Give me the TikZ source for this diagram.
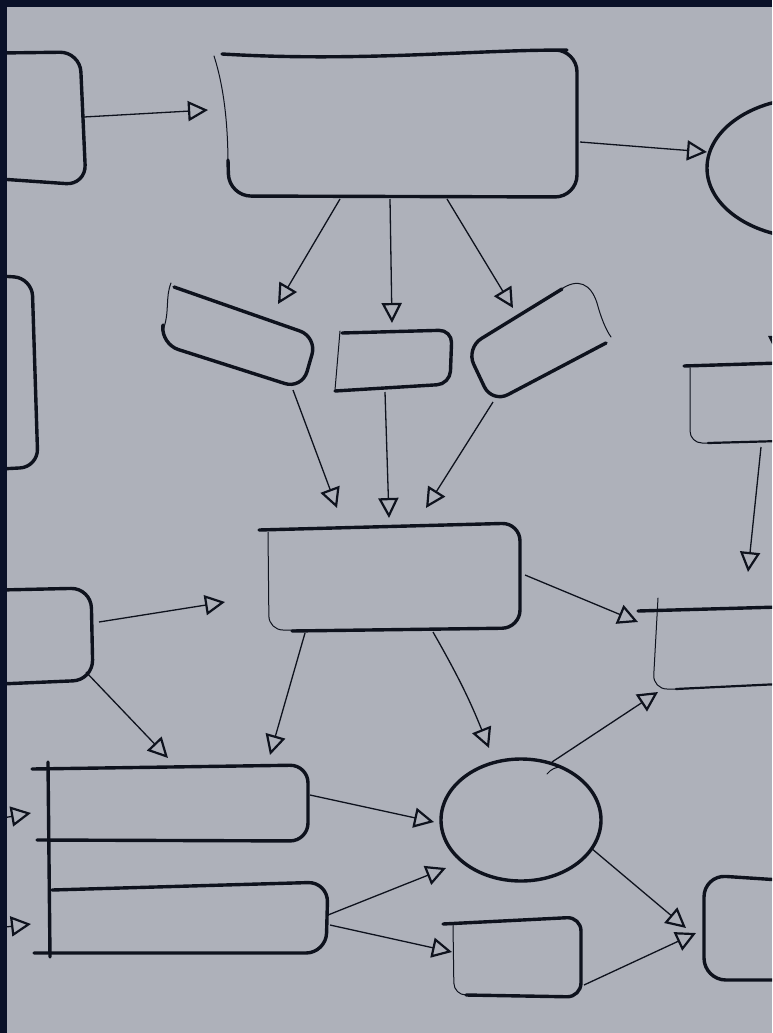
\documentclass[tikz,border=0pt]{standalone}
\usetikzlibrary{arrows.meta}
\definecolor{bgc}{HTML}{AEB1BA}
\definecolor{navy}{HTML}{0A1128}
\definecolor{ink}{HTML}{0E121D}
\tikzset{
  thk/.style={draw=ink, line width=3.4pt, line cap=round, line join=round},
  med/.style={draw=ink, line width=2.2pt, line cap=round, line join=round},
  thn/.style={draw=ink, line width=1pt, line cap=round},
  arr/.style={draw=ink, line width=1.3pt, -{Triangle[open, length=20pt, width=20pt, line width=2.2pt]}},
}
\begin{document}
\begin{tikzpicture}[x=1pt,y=-1pt]
\useasboundingbox (0,0) rectangle (772,1033);
\fill[bgc] (0,0) rectangle (772,1033);
\begin{scope}
\clip (0,0) rectangle (772,1033);
% ---- shapes ----
% top-left partial box
\draw[thk, rounded corners=20] (0,53) -- (80,52) -- (86,185) -- (0,179);
% big top box
\draw[thk, rounded corners=22] (228,160) -- (229,196) -- (577,197) -- (577,50) -- (545,50) .. controls (440,53) and (340,61) .. (222,54);
\draw[thn] (214,56) .. controls (225,90) and (228,130) .. (228,165);
% right top ellipse
\draw[thk] (810,168) ellipse [x radius=103, y radius=70];
% left-middle partial box
\draw[thk, rounded corners=18] (0,276) -- (32,278) -- (38,467) -- (0,469);
% tilted left box
\draw[thk, rounded corners=18] (174,287) -- (317,337) -- (302,389) -- (161,344) -- (163,325);
\draw[thn] (163,330) .. controls (170,312) and (165,298) .. (171,283);
% middle small box
\draw[thk, rounded corners=13] (342,333) -- (452,330) -- (450,384) -- (335,391);
\draw[thn] (340,331) -- (335,390);
% tilted right box
\draw[thk, rounded corners=18] (606,343) -- (492,403) -- (466,348) -- (562,289);
\draw[thn] (560,290) .. controls (578,277) and (591,284) .. (597,303) .. controls (601,318) and (606,330) .. (611,337);
% center box
\draw[thk, rounded corners=18] (259,530) -- (520,523) -- (520,628) -- (292,631);
\draw[thn, rounded corners=14] (268,532) -- (269,630) -- (300,630);
% right-middle partial box
\draw[thk] (684,366) -- (780,363);
\draw[thn, rounded corners=12] (690,368) -- (690,443) -- (712,443);
\draw[med] (708,443) -- (780,441);
% left lower partial box
\draw[thk, rounded corners=20] (0,590) -- (91,588) -- (93,680) -- (0,684);
% right box 2 partial
\draw[thk] (638,611) -- (780,607);
\draw[thn, rounded corners=14] (658,598) -- (653,689) -- (680,689);
\draw[med] (676,689) -- (780,684);
% circle
\draw[thk] (521,820) ellipse [x radius=80, y radius=61];
\draw[thn] (547,774) .. controls (551,769) and (556,767) .. (561,767);
% bracket line
\draw[thk] (48,762) -- (50,957);
% box A
\draw[thk, rounded corners=18] (32,769) -- (308,765) -- (308,841) -- (37,840);
% box B
\draw[thk, rounded corners=20] (52,890) -- (328,882) -- (326,953) -- (34,953);
% small bottom box
\draw[thk, rounded corners=14] (443,924) -- (581,917) -- (581,997) -- (466,995);
\draw[thn, rounded corners=12] (453,925) -- (454,995) -- (472,995);
% right bottom partial box
\draw[thk, rounded corners=22] (780,880) -- (704,875) -- (704,980) -- (780,980);

% ---- connector ends ----
\coordinate (a1s) at (84,117);   \coordinate (a1e) at (208,110);
\coordinate (a2s) at (580,142);  \coordinate (a2e) at (707,152);
\coordinate (a3s) at (340,199);  \coordinate (a3e) at (278,304);
\coordinate (a4s) at (390,199);  \coordinate (a4e) at (392,323);
\coordinate (a5s) at (447,199);  \coordinate (a5e) at (513,308);
\coordinate (a6s) at (293,390);  \coordinate (a6e) at (337,508);
\coordinate (a7s) at (385,392);  \coordinate (a7e) at (389,518);
\coordinate (a8s) at (493,402);  \coordinate (a8e) at (426,508);
\coordinate (a9s) at (99,622);   \coordinate (a9e) at (225,602);
\coordinate (a10s) at (525,575); \coordinate (a10e) at (638,622);
\coordinate (a11s) at (86,672);  \coordinate (a11e) at (168,758);
\coordinate (a12s) at (305,633); \coordinate (a12e) at (270,755);
\coordinate (a13s) at (433,632); \coordinate (a13e) at (489,748);
\coordinate (a14s) at (552,762); \coordinate (a14e) at (658,692);
\coordinate (a15s) at (310,795); \coordinate (a15e) at (434,822);
\coordinate (a16s) at (328,915); \coordinate (a16e) at (446,868);
\coordinate (a17s) at (330,925); \coordinate (a17e) at (452,952);
\coordinate (a18s) at (591,848); \coordinate (a18e) at (686,928);
\coordinate (a19s) at (584,985); \coordinate (a19e) at (696,933);
\coordinate (a20s) at (761,447); \coordinate (a20e) at (748,572);
\coordinate (a21s) at (779,290); \coordinate (a21e) at (778,356);
\coordinate (a22s) at (-20,822); \coordinate (a22e) at (31,813);
\coordinate (a23s) at (-20,930); \coordinate (a23e) at (31,924);

\draw[arr] (a1s) -- (a1e);
\draw[arr] (a2s) -- (a2e);
\draw[arr] (a3s) -- (a3e);
\draw[arr] (a4s) -- (a4e);
\draw[arr] (a5s) -- (a5e);
\draw[arr] (a6s) -- (a6e);
\draw[arr] (a7s) -- (a7e);
\draw[arr] (a8s) -- (a8e);
\draw[arr] (a9s) -- (a9e);
\draw[arr] (a10s) -- (a10e);
\draw[arr] (a11s) -- (a11e);
\draw[arr] (a12s) -- (a12e);
\draw[arr] (a13s) to[bend left=4] (a13e);
\draw[arr] (a14s) -- (a14e);
\draw[arr] (a15s) -- (a15e);
\draw[arr] (a16s) -- (a16e);
\draw[arr] (a17s) -- (a17e);
\draw[arr] (a18s) -- (a18e);
\draw[arr] (a19s) -- (a19e);
\draw[arr] (a20s) -- (a20e);
\draw[arr] (a21s) -- (a21e);
\draw[arr] (a22s) -- (a22e);
\draw[arr] (a23s) -- (a23e);
\end{scope}
\fill[navy] (0,0) rectangle (772,7);
\fill[navy] (0,0) rectangle (7,1033);
\end{tikzpicture}
\end{document}
